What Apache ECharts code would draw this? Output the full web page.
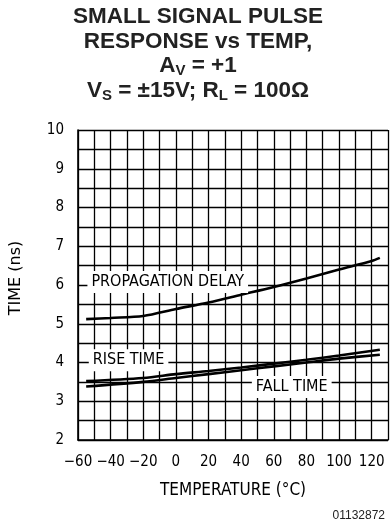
<!DOCTYPE html>
<html>
<head>
<meta charset="utf-8">
<script src="https://cdn.jsdelivr.net/npm/echarts@6/dist/echarts.min.js"></script>
<style>
  html, body { margin: 0; padding: 0; background: #fff; }
  #main { width: 391px; height: 531px; }
</style>
</head>
<body>
<div id="main"></div>
<script>
// temperatures (°C) and times (ns)
var tempDelay = [-55, -40, -20, 0, 20, 40, 60, 80, 100, 120, 125];
var propDelay = [5.12, 5.15, 5.2, 5.38, 5.55, 5.75, 5.95, 6.17, 6.4, 6.62, 6.7];
var tempEdge = [-55, -20, 0, 20, 40, 60, 80, 100, 125];
var riseTime = [3.52, 3.6, 3.7, 3.78, 3.87, 3.97, 4.07, 4.18, 4.33];
var fallTime = [3.38, 3.5, 3.6, 3.7, 3.8, 3.9, 4.0, 4.1, 4.2];

var titleLines = ['SMALL SIGNAL PULSE', 'RESPONSE vs TEMP,'];
var curveLabels = [
  { name: 'PROPAGATION DELAY', at: [-5, 6.08] },
  { name: 'RISE TIME', at: [-29, 4.06] },
  { name: 'FALL TIME', at: [71, 3.37] }
];

var labelFont = '"DejaVu Sans Condensed", "DejaVu Sans", sans-serif';
var titleFont = '"Liberation Sans", Arial, sans-serif';

function zip(xs, ys) {
  return xs.map(function (x, i) { return [x, ys[i]]; });
}

function curve(data, lbl) {
  var s = {
    type: 'line',
    data: data,
    smooth: 0.3,
    symbol: 'none',
    lineStyle: { color: '#000', width: 2.6 },
    z: 3
  };
  if (lbl) {
    s.markPoint = {
      symbol: 'rect',
      symbolSize: 0,
      silent: true,
      data: [{ coord: lbl.at, value: lbl.name }],
      label: {
        show: true,
        position: 'inside',
        formatter: lbl.name,
        color: '#000',
        fontFamily: labelFont,
        fontSize: 16,
        backgroundColor: '#fff',
        padding: [3, 4, 3, 4]
      }
    };
  }
  return s;
}

var chart = echarts.init(document.getElementById('main'));
chart.setOption({
  animation: false,
  title: {
    text: titleLines.join('\n') + '\n{b|A}{s|V}{b| = +1}\n{b|V}{s|S}{b| = ±15V; R}{s|L}{b| = 100Ω}',
    left: 193,
    textAlign: 'center',
    top: 0,
    textStyle: {
      fontFamily: titleFont,
      fontWeight: 'bold',
      fontSize: 22.5,
      lineHeight: 24.5,
      color: '#222',
      rich: {
        b: { fontFamily: titleFont, fontWeight: 'bold', fontSize: 22.5, lineHeight: 24.5, color: '#222' },
        s: { fontFamily: titleFont, fontWeight: 'bold', fontSize: 15, lineHeight: 24.5, color: '#222', verticalAlign: 'bottom', padding: [9, 0, 0, 0] }
      }
    }
  },
  graphic: [
    {
      type: 'text',
      right: 6,
      top: 510,
      style: { text: '01132872', fontFamily: titleFont, fontSize: 12, fill: '#222' }
    }
  ],
  grid: { left: 78, right: 3, top: 130, bottom: 91, outerBoundsMode: 'none', containLabel: false },
  xAxis: {
    type: 'value',
    min: -60,
    max: 130,
    interval: 10,
    name: 'TEMPERATURE (°C)',
    nameLocation: 'middle',
    nameGap: 42,
    nameTextStyle: { fontFamily: labelFont, fontSize: 17, color: '#000' },
    axisLine: { onZero: false, lineStyle: { color: '#000', width: 1.6 } },
    axisTick: { show: false },
    splitLine: { show: true, lineStyle: { color: '#000', width: 1.3 } },
    axisLabel: {
      fontFamily: labelFont,
      fontSize: 15,
      color: '#000',
      margin: 15,
      formatter: function (v) {
        if (v % 20 !== 0 || v > 120) return '';
        return v < 0 ? '\u2212' + Math.abs(v) : String(v);
      }
    }
  },
  yAxis: {
    type: 'value',
    min: 2,
    max: 10,
    interval: 0.5,
    name: 'TIME (ns)',
    nameLocation: 'middle',
    nameGap: 54,
    nameRotate: 90,
    nameTextStyle: { fontFamily: '"DejaVu Sans", sans-serif', fontSize: 16, color: '#000', padding: [0, 0, 0, 14] },
    axisLine: { show: true, onZero: false, lineStyle: { color: '#000', width: 1.6 } },
    axisTick: { show: false },
    splitLine: { show: true, lineStyle: { color: '#000', width: 1.3 } },
    axisLabel: {
      fontFamily: labelFont,
      fontSize: 15,
      color: '#000',
      margin: 14,
      formatter: function (v) { return v % 1 === 0 ? String(v) : ''; }
    }
  },
  series: [
    curve(zip(tempDelay, propDelay), curveLabels[0]),
    curve(zip(tempEdge, riseTime), curveLabels[1]),
    curve(zip(tempEdge, fallTime), curveLabels[2])
  ]
});
</script>
</body>
</html>
